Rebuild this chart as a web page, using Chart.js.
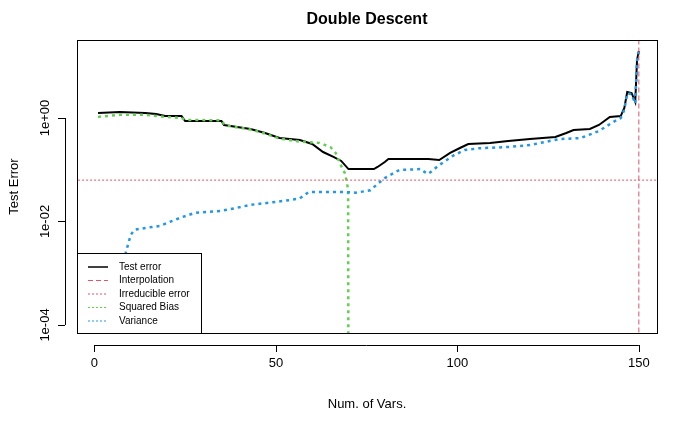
<!DOCTYPE html>
<html><head><script src="https://cdn.jsdelivr.net/npm/chart.js@4"></script>
<style>body{margin:0;background:#fff}</style></head>
<body><canvas id="c" width="700" height="432" style="width:700px;height:432px"></canvas>
<script>
const testX=[1,7,14,17,19.5,24,25,35,35.7,43,47,51,56.6,60,63,66,68,70,73,77,78,80,81,92,95,98,100.7,103,109,114,120,127,130,132,136.5,139,142,145,146,146.8,148,149,149.5,150];
const testY=[1.25,1.31,1.25,1.19,1.09,1.09,0.875,0.875,0.732,0.613,0.513,0.41,0.375,0.314,0.22,0.176,0.148,0.103,0.103,0.103,0.113,0.141,0.161,0.161,0.154,0.211,0.263,0.314,0.329,0.359,0.393,0.43,0.513,0.586,0.613,0.732,1.045,1.09,1.56,3.18,3.04,2.04,13.2,19.7];
const biasX=[1,7,14,17,24,25,35,36,43,47,51,56.6,62,65,66.5,67.6,69,69.6,69.9,70];
const biasY=[1.05,1.15,1.15,1.09,1.0,0.92,0.9,0.72,0.6,0.5,0.4,0.35,0.33,0.275,0.21,0.135,0.086,0.055,0.04,0.000001];
const varX=[6.5,7.6,8.5,10,11,14,18,23.5,27.7,34.6,38.7,43,48,54,56.6,59,69,72,76,78,80,84,90,91,92,95,99,102,106,114,120,128,134,139,143,145,146,146.8,148,149,149.5,150];
const varY=[0.00003,0.0012,0.0023,0.0055,0.0069,0.0075,0.0082,0.0117,0.0147,0.016,0.018,0.021,0.023,0.026,0.028,0.037,0.037,0.036,0.04,0.053,0.069,0.099,0.103,0.09,0.083,0.123,0.19,0.24,0.26,0.275,0.3,0.39,0.41,0.56,0.84,1.0,1.45,3.0,2.9,1.9,13,19];
const irreducible=0.063;
const xTicks=[0,50,100,150];
const yTicks=[1,0.01,0.0001];
const yTickLabels=['1e+00','1e-02','1e-04'];
const legendLabels=['Test error','Interpolation','Irreducible error','Squared Bias','Variance'];
const RED='#DF536B',GREEN='#61D04F',BLUE='#2297E6';
const pts=(xs,ys)=>xs.map((x,i)=>({x,y:ys[i]}));
const deco={id:'deco',afterDraw(ch){
 const c=ch.ctx,a=ch.chartArea,xs=ch.scales.x,ys=ch.scales.y;
 c.save();c.strokeStyle='#000';c.lineWidth=1;c.strokeRect(a.left+0.5,a.top+0.5,a.right-a.left,a.bottom-a.top);
 c.fillStyle='#000';c.font='13px Arial, "Liberation Sans"';c.textAlign='center';c.textBaseline='top';
 const by=a.bottom+12;
 c.beginPath();c.moveTo(xs.getPixelForValue(0),by+0.5);c.lineTo(xs.getPixelForValue(150),by+0.5);
 xTicks.forEach(t=>{const p=Math.round(xs.getPixelForValue(t))+0.5;c.moveTo(p,by);c.lineTo(p,by+7);});c.stroke();
 xTicks.forEach(t=>c.fillText(String(t),xs.getPixelForValue(t),by+12));
 const lx=a.left-12;
 c.beginPath();c.moveTo(lx+0.5,ys.getPixelForValue(1));c.lineTo(lx+0.5,ys.getPixelForValue(1e-4));
 yTicks.forEach(t=>{const p=Math.round(ys.getPixelForValue(t))+0.5;c.moveTo(lx,p);c.lineTo(lx-7,p);});c.stroke();
 yTicks.forEach((t,i)=>{c.save();c.translate(lx-20,ys.getPixelForValue(t));c.rotate(-Math.PI/2);c.textBaseline='middle';c.fillText(yTickLabels[i],0,0);c.restore();});
 c.fillText('Num. of Vars.',(a.left+a.right)/2,398);
 c.save();c.translate(14,(a.top+a.bottom)/2);c.rotate(-Math.PI/2);c.textBaseline='middle';c.fillText('Test Error',0,0);c.restore();
 c.font='bold 16px Arial, "Liberation Sans"';c.fillText('Double Descent',(a.left+a.right)/2,12);
 // legend
 const L=a.left,T=253,W=124,H=a.bottom-T;
 c.fillStyle='#fff';c.fillRect(L,T,W,H);c.strokeStyle='#000';c.strokeRect(L+0.5,T+0.5,W,H);
 const st=[['#000',[],1.5],[RED,[5,3],1],[RED,[2,2],1],[GREEN,[2,2],1],[BLUE,[2,2],1]];
 c.font='10px Arial, "Liberation Sans"';c.textAlign='left';c.textBaseline='middle';
 legendLabels.forEach((s,i)=>{const yy=T+14+i*13.5;c.beginPath();c.strokeStyle=st[i][0];c.setLineDash(st[i][1]);c.lineWidth=st[i][2];c.moveTo(L+11,yy);c.lineTo(L+31,yy);c.stroke();c.setLineDash([]);c.fillStyle='#000';c.fillText(s,L+42,yy);});
 c.restore();
}};
new Chart(document.getElementById('c'),{type:'scatter',
 data:{datasets:[
  {data:pts([-10,160],[irreducible,irreducible]),borderColor:RED,borderWidth:1,borderDash:[2,2]},
  {data:pts([150,150],[1e-6,100]),borderColor:RED,borderWidth:1,borderDash:[5,3]},
  {data:pts(varX,varY),borderColor:BLUE,borderWidth:2.5,borderDash:[3,4]},
  {data:pts(biasX,biasY),borderColor:GREEN,borderWidth:2.5,borderDash:[3,4]},
  {data:pts(testX,testY),borderColor:'#000',borderWidth:2}
 ].map(d=>Object.assign(d,{showLine:true,pointRadius:0,fill:false,tension:0}))},
 options:{responsive:false,animation:false,events:[],
  layout:{padding:{left:77,right:43,top:40,bottom:99}},
  plugins:{legend:{display:false},title:{display:false},tooltip:{enabled:false}},
  scales:{x:{type:'linear',min:-4.8,max:155,display:false},
   y:{type:'logarithmic',min:Math.pow(10,-4.15),max:Math.pow(10,1.507),display:false}}},
 plugins:[deco]});
</script></body></html>
